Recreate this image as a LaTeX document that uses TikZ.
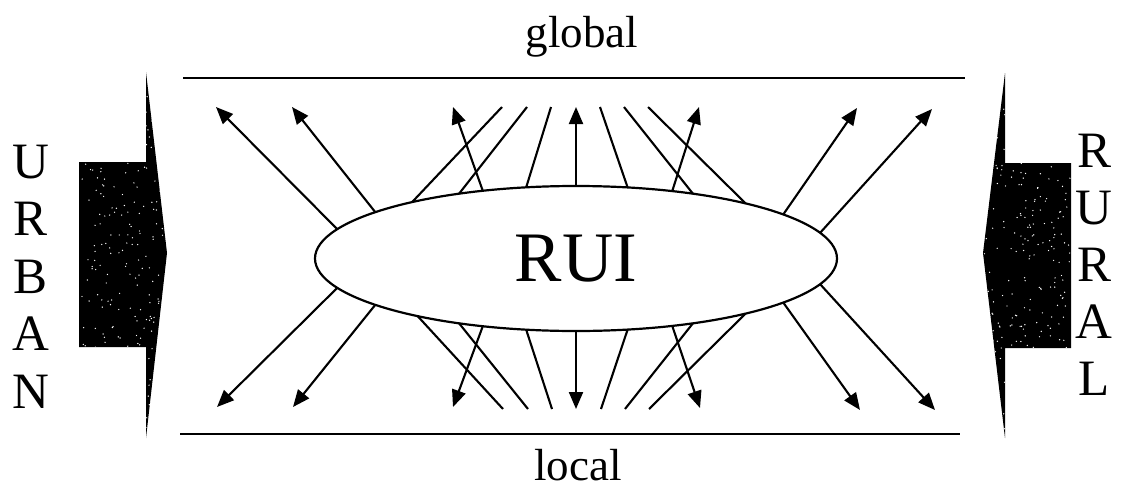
\documentclass[tikz,border=0pt]{standalone}
\usepackage{fontspec}
\setmainfont{Liberation Serif}
\usetikzlibrary{shapes.geometric,arrows.meta}
\tikzset{
  link/.style={line width=2.1pt},
  arr/.style={line width=2.1pt,-{Triangle[length=17pt,width=14pt]}},
  rule/.style={line width=2.3pt},
  letter/.style={anchor=base,inner sep=0,font=\fontsize{51}{51}\selectfont},
  level/.style={anchor=base,inner sep=0,font=\fontsize{45}{45}\selectfont},
  block/.style={fill=black},
}
\begin{document}
\begin{tikzpicture}[x=1pt,y=-1pt]
\useasboundingbox (0,0) rectangle (1122,501);
% horizontal rules
\coordinate (gl) at (183,78); \coordinate (gr) at (965,78);
\coordinate (ll) at (180,434); \coordinate (lr) at (960,434);
\draw[rule] (gl) -- (gr);
\draw[rule] (ll) -- (lr);
\node[level] (global) at (582,47) {global};
\node[level] (local) at (578,480) {local};
% blocks
\begin{scope}
\clip (79,162) -- (146,162) -- (146,72) -- (167,253) -- (146,438) -- (146,347) -- (79,347) -- cycle;
\fill[block] (70,60) rectangle (175,445);
\pgfmathsetseed{17}
\foreach \i in {1,...,320}{
  \pgfmathsetmacro\xx{80+rnd*86}
  \pgfmathsetmacro\yy{75+rnd*360}
  \fill[white] (\xx,\yy) circle (0.7pt);
}
\end{scope}
\begin{scope}
\clip (1071,163) -- (1005,163) -- (1005,73) -- (983,253) -- (1005,438) -- (1005,348) -- (1071,348) -- cycle;
\fill[block] (975,60) rectangle (1080,445);
\pgfmathsetseed{29}
\foreach \i in {1,...,320}{
  \pgfmathsetmacro\xx{984+rnd*86}
  \pgfmathsetmacro\yy{75+rnd*360}
  \fill[white] (\xx,\yy) circle (0.7pt);
}
\end{scope}
% letters
\node[letter] (u1) at (31,178) {U};
\node[letter] (u2) at (31,235) {R};
\node[letter] (u3) at (31,293) {B};
\node[letter] (u4) at (31,350) {A};
\node[letter] (u5) at (31,408) {N};
\node[letter] (r1) at (1094,167) {R};
\node[letter] (r2) at (1094,224) {U};
\node[letter] (r3) at (1094,281) {R};
\node[letter] (r4) at (1094,338) {A};
\node[letter] (r5) at (1094,395) {L};
% ellipse
\node[ellipse,draw,line width=2.2pt,minimum width=522pt,minimum height=145pt,inner sep=0,outer sep=0,
      font=\fontsize{71}{71}\selectfont] (rui) at (576,258.5) {RUI};
% top free ends
\coordinate (t1) at (216,107); \coordinate (t2) at (292,107); \coordinate (t3) at (453,107);
\coordinate (t4) at (502,107); \coordinate (t5) at (527,107); \coordinate (t6) at (551,107);
\coordinate (t7) at (576,107); \coordinate (t8) at (600,107); \coordinate (t9) at (624,107);
\coordinate (t10) at (648,107); \coordinate (t11) at (699,107); \coordinate (t12) at (857,108);
\coordinate (t13) at (932,109);
% bottom free ends
\coordinate (b1) at (217,407); \coordinate (b2) at (293,407); \coordinate (b3) at (503,409);
\coordinate (b4) at (453,407); \coordinate (b5) at (528,409); \coordinate (b6) at (552,409);
\coordinate (b7) at (576,409); \coordinate (b8) at (601,409); \coordinate (b9) at (625,409);
\coordinate (b10) at (649,409); \coordinate (b11) at (700,408); \coordinate (b12) at (860,410);
\coordinate (b13) at (935,410);
% top connectors
\draw[arr] (rui.173) -- (t1);
\draw[arr] (rui.167) -- (t2);
\draw[arr] (rui.144.5) -- (t3);
\draw[link] (rui.161) -- (t4);
\draw[link] (rui.151) -- (t5);
\draw[link] (rui.125.5) -- (t6);
\draw[arr] (rui.90) -- (t7);
\draw[link] (rui.54.5) -- (t8);
\draw[link] (rui.29.2) -- (t9);
\draw[link] (rui.18.7) -- (t10);
\draw[arr] (rui.35.2) -- (t11);
\draw[arr] (rui.12.6) -- (t12);
\draw[arr] (rui.6.7) -- (t13);
% bottom connectors
\draw[arr] (rui.-173) -- (b1);
\draw[arr] (rui.-167) -- (b2);
\draw[link] (rui.-160) -- (b3);
\draw[arr] (rui.-144.5) -- (b4);
\draw[link] (rui.-151) -- (b5);
\draw[link] (rui.-125.5) -- (b6);
\draw[arr] (rui.-90) -- (b7);
\draw[link] (rui.-54.5) -- (b8);
\draw[link] (rui.-29.2) -- (b9);
\draw[link] (rui.-18.7) -- (b10);
\draw[arr] (rui.-35.2) -- (b11);
\draw[arr] (rui.-12.6) -- (b12);
\draw[arr] (rui.-6.7) -- (b13);
\end{tikzpicture}
\end{document}
